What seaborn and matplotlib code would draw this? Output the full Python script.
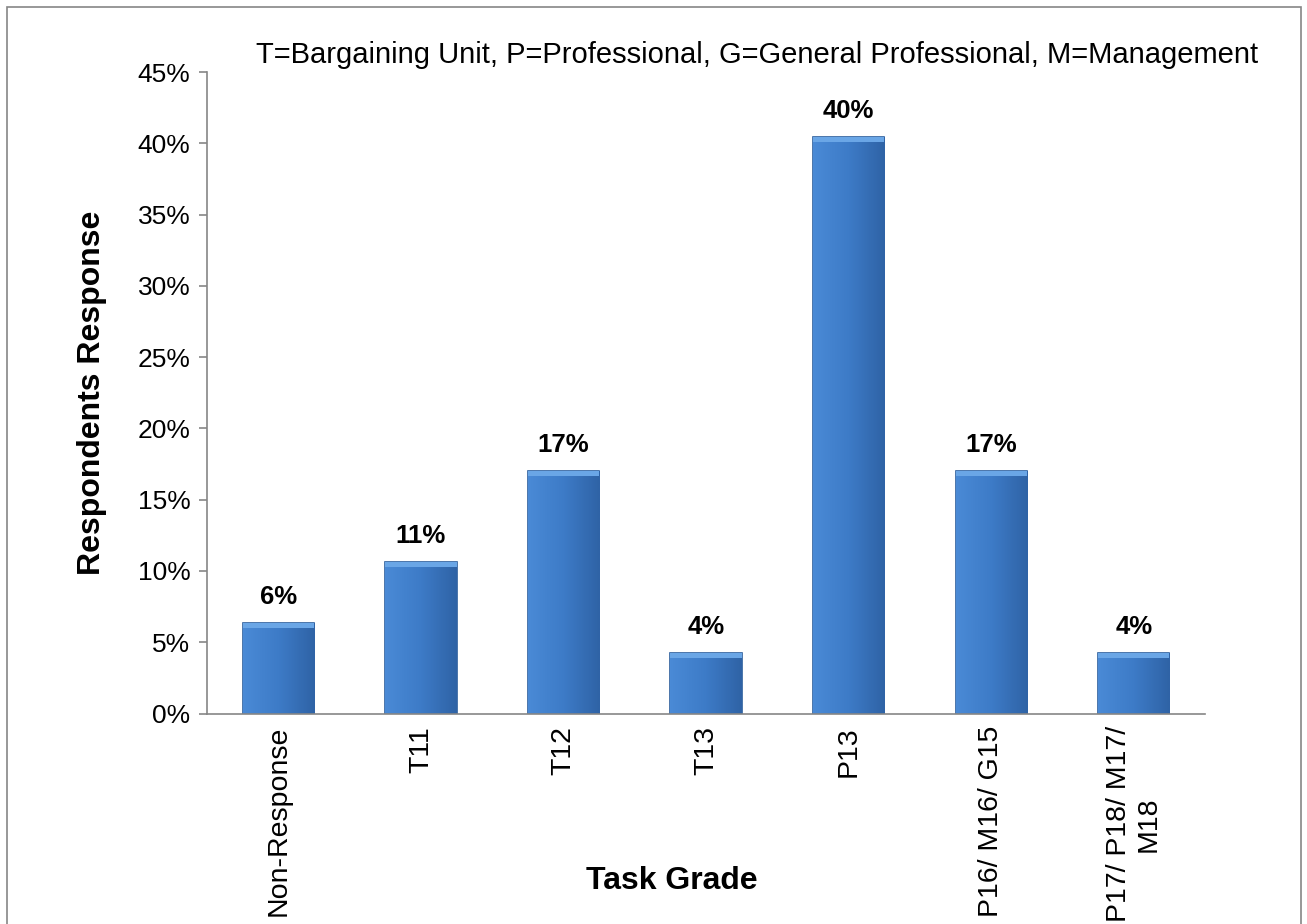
import numpy as np
import pandas as pd
import matplotlib
matplotlib.use("Agg")
import matplotlib.pyplot as plt
import seaborn as sns
from matplotlib.patches import Rectangle
from matplotlib.colors import LinearSegmentedColormap

# data (share of respondents, %)
grades = ['Non-Response', 'T11', 'T12', 'T13', 'P13', 'P16/ M16/ G15', 'P17/ P18/ M17/\nM18']
shares = [6.38, 10.64, 17.02, 4.26, 40.43, 17.02, 4.26]
bar_labels = ['6%', '11%', '17%', '4%', '40%', '17%', '4%']
yticks = [0, 5, 10, 15, 20, 25, 30, 35, 40, 45]

df = pd.DataFrame({'grade': grades, 'share': shares})

sns.set_style('white')
plt.rcParams['font.family'] = ['Liberation Sans', 'DejaVu Sans']
plt.rcParams['text.color'] = 'black'
plt.rcParams['axes.labelcolor'] = 'black'
plt.rcParams['xtick.color'] = 'black'
plt.rcParams['ytick.color'] = 'black'

fig = plt.figure(figsize=(13.07, 9.24), dpi=100)
ax = fig.add_axes([0.1584, 0.2278, 0.7636, 0.6942])

sns.barplot(data=df, x='grade', y='share', color='#3d7cc9', width=0.5,
            edgecolor='#2b5d9c', linewidth=1.2, ax=ax)

# gradient fill on each bar to mimic the bevelled look
cmap = LinearSegmentedColormap.from_list('bev', ['#4a8ad6', '#3d7bc7', '#2f63a6'])
grad = np.linspace(0, 1, 64).reshape(1, -1)
for patch in ax.patches:
    x0, y0 = patch.get_x(), patch.get_y()
    w, h = patch.get_width(), patch.get_height()
    im = ax.imshow(grad, cmap=cmap, aspect='auto', extent=(x0, x0 + w, y0, y0 + h),
                   zorder=patch.get_zorder() + 0.1)
    im.set_clip_path(patch)
    # light bevel on top
    ax.add_patch(Rectangle((x0, y0 + h - 0.35), w, 0.35, facecolor='#6aa6e6',
                           edgecolor='none', zorder=patch.get_zorder() + 0.2))

for i, (v, lab) in enumerate(zip(shares, bar_labels)):
    ax.annotate(lab, (i, v), xytext=(0, 10), textcoords='offset points',
                ha='center', va='bottom', fontsize=18.5, fontweight='bold')

ax.set_xlim(-0.5, len(grades) - 0.5)
ax.set_ylim(0, 45)
ax.set_yticks(yticks)
ax.set_yticklabels([f'{t}%' for t in yticks], fontsize=19)

ax.set_xticks(range(len(grades)))
ax.set_xticklabels(grades, rotation=90, fontsize=20.5, va='top', ha='center',
                   multialignment='center')
ax.set_xticks(np.arange(-0.5, len(grades)), minor=True)
ax.tick_params(axis='x', which='major', length=0, pad=9)
ax.tick_params(axis='x', which='minor', length=7, width=1.2, color='#868686', direction='out')
ax.tick_params(axis='y', length=6, width=1.2, color='#868686', direction='out', left=True, pad=6)

for s in ['top', 'right']:
    ax.spines[s].set_visible(False)
for s in ['left', 'bottom']:
    ax.spines[s].set_color('#868686')
    ax.spines[s].set_linewidth(1.2)

ax.set_ylabel('Respondents Response', fontsize=23, fontweight='bold')
ax.yaxis.set_label_coords(-0.100, 0.5)
ax.set_xlabel('Task Grade', fontsize=23, fontweight='bold')
ax.xaxis.set_label_coords(0.466, -0.238)

ax.text(0.551, 1.026, 'T=Bargaining Unit, P=Professional, G=General Professional, M=Management',
        transform=ax.transAxes, ha='center', va='center', fontsize=21)

# outer chart border
fig.patches.append(Rectangle((0.0054, -0.01), 0.99, 1.0024, transform=fig.transFigure,
                             fill=False, edgecolor='#868686', linewidth=1.2))

fig.savefig('out.png', dpi=100)
